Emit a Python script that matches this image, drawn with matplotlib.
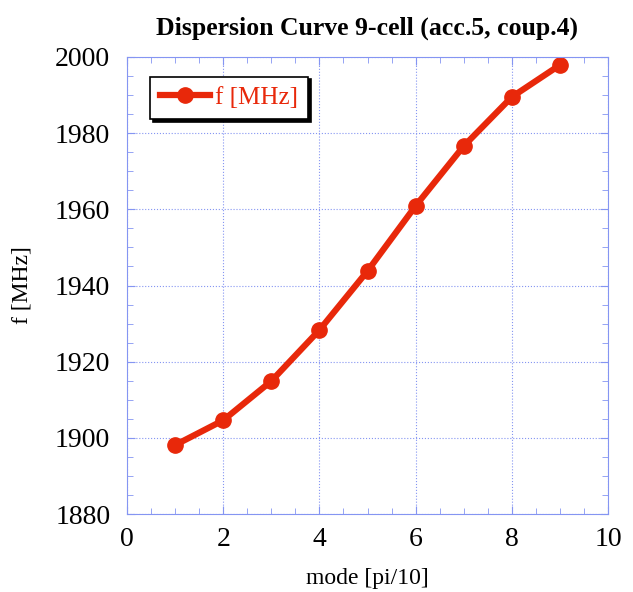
import numpy as np
import matplotlib.pyplot as plt
from matplotlib.ticker import MultipleLocator

plt.rcParams['font.family'] = ['Liberation Serif', 'DejaVu Serif']

mode = [1, 2, 3, 4, 5, 6, 7, 8, 9]
freq = [1898.1, 1904.6, 1914.9, 1928.3, 1943.8, 1960.9, 1976.6, 1989.5, 1997.9]

fig = plt.figure(figsize=(6.33, 5.92), dpi=100)
ax = fig.add_axes([127/633, 1-514/592, 481/633, 457/592])

red = '#e8280a'
blue = '#8595f2'
ax.plot(mode, freq, '-o', color=red, lw=4.5, ms=11, label='f [MHz]')

ax.set_xlim(0, 10)
ax.set_ylim(1880, 2000)
ax.xaxis.set_major_locator(MultipleLocator(2))
ax.xaxis.set_minor_locator(MultipleLocator(0.5))
ax.yaxis.set_major_locator(MultipleLocator(20))
ax.yaxis.set_minor_locator(MultipleLocator(5))
ax.grid(True, which='major', color=blue, ls=':', lw=0.8)
ax.tick_params(which='both', direction='in', top=True, right=True, color=blue, labelsize=20)
ax.tick_params(axis='x', pad=9)
ax.tick_params(axis='y', pad=12)
ax.tick_params(which='major', length=6)
ax.tick_params(which='minor', length=4)
for s in ax.spines.values():
    s.set_color(blue)

ax.set_title('Dispersion Curve 9-cell (acc.5, coup.4)', fontsize=18.5, fontweight='bold', pad=16)
ax.set_xlabel('mode [pi/10]', fontsize=17, labelpad=12)
ax.set_ylabel('f [MHz]', fontsize=17, labelpad=16)

leg = ax.legend(loc='upper left', bbox_to_anchor=(0.048, 0.957), fontsize=18, frameon=True,
                shadow={'color': 'black', 'alpha': 1}, fancybox=False, handlelength=2.0,
                handletextpad=0.2, borderpad=0.4, borderaxespad=0)
leg.get_frame().set_edgecolor('black')
leg.get_frame().set_linewidth(1.2)
for t in leg.get_texts():
    t.set_color(red)

fig.savefig('out.png', dpi=100)
